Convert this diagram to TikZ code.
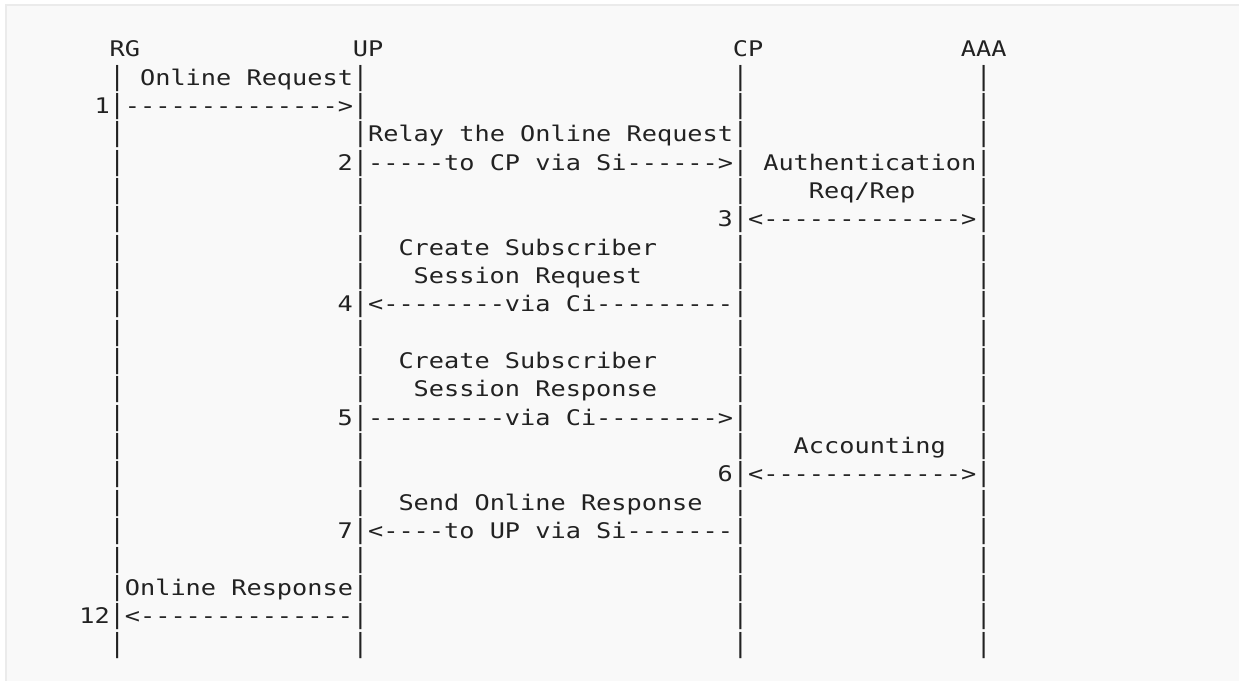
\documentclass[tikz,border=0pt]{standalone}
\usepackage{fontspec}
\usepackage{graphicx}
\usepackage{tikz}
\usepackage{xcolor}
\setmonofont[FakeStretch=1.175]{DejaVu Sans Mono}
\definecolor{boxbg}{HTML}{F9F9F9}
\definecolor{boxline}{HTML}{EBEBEB}
\definecolor{ink}{HTML}{222222}
\newcommand{\lifebar}{\scalebox{1}[1.22]{|}}
\tikzset{txt/.style={anchor=base west, inner sep=0pt, outer sep=0pt, text=ink,
    font=\ttfamily\fontsize{21.5bp}{28bp}\selectfont}}

\begin{document}
\begin{tikzpicture}[x=15.2bp, y=-28.35bp]
        \useasboundingbox (0bp,0bp) rectangle (1239bp,-681bp);
        \filldraw[fill=boxbg, draw=boxline, line width=2bp] (6bp,-5bp) rectangle (1260bp,-700bp);
    \begin{scope}[shift={(18.5bp,-28.35bp)}]
        % column, row
		\node[txt] (rg) at (6, 1) {RG};
		\node[txt] (up) at (22, 1) {UP};
		\node[txt] (cp) at (47, 1) {CP};
		\node[txt] (aaa) at (62, 1) {AAA};
		\foreach \r in {2,...,22}
		    \foreach \c in {6,22,47,63}
		        \node[txt] (l\c-\r) at (\c, \r) {\lifebar};
		\node[txt] (m2) at (8, 2) {Online Request};
		\node[txt] (n1) at (5, 3) {1};
		\node[txt] (m3) at (7, 3) {-------------->};
		\node[txt] (m4) at (23, 4) {Relay the Online Request};
		\node[txt] (n2) at (21, 5) {2};
		\node[txt] (m5) at (23, 5) {-----to CP via Si------>};
		\node[txt] (a5) at (49, 5) {Authentication};
		\node[txt] (a6) at (52, 6) {Req/Rep};
		\node[txt] (n3) at (46, 7) {3};
		\node[txt] (a7) at (48, 7) {<------------->};
		\node[txt] (m8) at (25, 8) {Create Subscriber};
		\node[txt] (m9) at (26, 9) {Session Request};
		\node[txt] (n4) at (21, 10) {4};
		\node[txt] (m10) at (23, 10) {<--------via Ci---------};
		\node[txt] (m12) at (25, 12) {Create Subscriber};
		\node[txt] (m13) at (26, 13) {Session Response};
		\node[txt] (n5) at (21, 14) {5};
		\node[txt] (m14) at (23, 14) {---------via Ci-------->};
		\node[txt] (a15) at (51, 15) {Accounting};
		\node[txt] (n6) at (46, 16) {6};
		\node[txt] (a16) at (48, 16) {<------------->};
		\node[txt] (m17) at (25, 17) {Send Online Response};
		\node[txt] (n7) at (21, 18) {7};
		\node[txt] (m18) at (23, 18) {<----to UP via Si-------};
		\node[txt] (m20) at (7, 20) {Online Response};
		\node[txt] (n12) at (4, 21) {12};
		\node[txt] (m21) at (7, 21) {<--------------};
    \end{scope}
    \end{tikzpicture}
\end{document}
